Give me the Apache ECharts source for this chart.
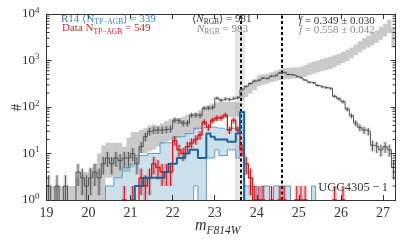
<!DOCTYPE html>
<html><head><meta charset="utf-8">
<script src="https://cdn.jsdelivr.net/npm/echarts@6/dist/echarts.min.js"></script>
<style>html,body{margin:0;padding:0;background:#fff;}#chart{width:407px;height:244px;}</style>
</head><body><div id="chart"></div>
<script>
// ---------------- data ----------------
const binEdges = [
 19.0,19.1,19.2,19.3,19.4,19.5,19.6,19.7,19.8,19.9,
 20.0,20.1,20.2,20.3,20.4,20.5,20.6,20.7,20.8,20.9,
 21.0,21.1,21.2,21.3,21.4,21.5,21.6,21.7,21.8,21.9,
 22.0,22.1,22.2,22.3,22.4,22.5,22.6,22.7,22.8,22.9,
 23.0,23.1,23.2,23.3,23.4,23.5,23.6,23.7,23.8,23.9,
 24.0,24.1,24.2,24.3,24.4,24.5,24.6,24.7,24.8,24.9,
 25.0,25.1,25.2,25.3,25.4,25.5,25.6,25.7,25.8,25.9,
 26.0,26.1,26.2,26.3,26.4,26.5,26.6,26.7,26.8,26.9,
 27.0,27.1,27.2,27.3];

// all stars, data (dark grey step histogram)
const dataTotalCounts = [
 2,0,2,0,2,0,0,4,3,2,
 3,4,3,6,8,6,8,7,8,8,
 10,6,14,23,30,32,32,32,33,34,
 52,50,45,45,67,67,65,95,95,98,
 155,140,150,145,155,160,240,280,320,360,
 380,420,410,460,480,540,560,500,490,450,
 420,380,340,330,290,270,260,250,170,150,
 130,90,65,45,36,32,30,15,14,12,
 14,12,5];

// all stars, model range (light grey band)
const modelTotalLo = [
 0,0,0,0,0,0,0,0,0,0,
 0,0,0,0,3,3,3,3,4,4,
 5,9,10,10,11,12,14,16,18,19,
 20,22,24,26,28,32,35,40,45,47,
 50,55,58,60,61,62,140,165,195,230,
 280,300,320,340,360,380,390,400,410,415,
 420,450,480,520,560,590,620,660,720,800,
 880,980,1100,1300,1500,1700,1900,2100,2400,2800,
 3300,3900,1900];
const modelTotalHi = [
 2,2,2,2,2,2,2,3,4,4,
 5,6,10,15,17,17,17,17,14,22,
 29,29,32,36,40,42,40,45,50,55,
 58,58,62,68,72,75,85,95,110,120,
 125,128,130,130,128,125,230,280,340,400,
 480,500,520,560,600,650,690,700,710,720,
 730,800,880,950,1000,1080,1150,1200,1300,1400,
 1550,1700,1900,2200,2600,3000,3400,3900,4500,5300,
 6200,7500,5000];

// R14 TP-AGB model: range (light blue band) and median (dark blue)
const r14Lo = [
 0,0,0,0,0,0,0,0,0,0,
 0,0,0,0,0,0,0,0,0,0,
 0,0,0,0,0,0,0,0,0,0,
 0,0,0,0,0,2,0,0,8,8,
 12,9,9,12,12,8,15,0,0,0,
 0,0,0,0,0,0,0,0,0,0,
 0,0,0,0,0,0,0,0,0,0,
 0,0,0,0,0,0,0,0,0,0,
 0,0,0];
const r14Hi = [
 0,0,0,0,0,0,0,0,0,0,
 0,0,0,0,2,2,3,3,5,5,
 6,9,9,9,10,10,10,17,17,17,
 23,23,23,27,27,35,35,37,37,37,
 35,35,32,35,35,35,80,2,2,2,
 1,2,2,1,2,2,2,2,0,0,
 0,0,0,2,0,0,0,0,0,0,
 0,0,0,0,0,0,0,0,0,0,
 0,0,0];
const r14Median = [
 0,0,0,0,0,0,0,0,0,0,
 0,0,0,0,0,0,0,0,0,0,
 0,2,2,3,3,3,3,3,4,6,
 6,8,8,10,12,12,8,8,27,23,
 20,20,20,18,18,27,78,0,0,0,
 0,0,0,0,0,0,0,0,0,0,
 0,0,0,0,0,0,0,0,0,0,
 0,0,0,0,0,0,0,0,0,0,
 0,0,0];

// TP-AGB data (red step histogram)
const dataAgbCounts = [
 0,0,0,0,0,0,0,0,0,0,
 0,0,0,0,0,0,0,0,1,0,
 1,0,3,2,3,6,5,4,4,4,
 19,12,10,14,17,20,25,47,37,52,
 58,58,67,32,52,32,12,6,3,1,
 1,1,0,1,0,1,1,0,0,1,
 1,1,0,0,0,0,0,0,1,0,
 1,0,0,0,0,0,0,0,0,0,
 0,0,0];

const xTickValues = [19,20,21,22,23,24,25,26,27];
const yTickExponents = [0,1,2,3,4];
const trgbMag = 23.61, trgbBandLo = 23.48, trgbBandHi = 23.72;
const cutMag = 24.59;

// ---------------- styling ----------------
const SERIF = "'Liberation Serif','DejaVu Serif',serif";
const AX = '#333333';
const FLOOR = 0.3; // draws empty bins below the axis (clipped)

function stepData(vals){
  const out = [];
  for (let i = 0; i < vals.length; i++) out.push([binEdges[i], vals[i] > 0 ? vals[i] : FLOOR]);
  const last = vals[vals.length - 1];
  out.push([binEdges[vals.length], last > 0 ? last : FLOOR]);
  return out;
}
function stepSeries(vals, color, width, z){
  return {type:'line', step:'end', data:stepData(vals), symbol:'none', silent:true, z,
    clip:true, lineStyle:{color, width}, animation:false};
}
function bandSeries(lo, hi, fill, z){
  return {type:'custom', z, silent:true, clip:true, data:[[binEdges[0], 1]], animation:false,
    renderItem(params, api){
      const pts = [];
      for (let i = 0; i < hi.length; i++){
        const h = Math.max(hi[i], 1);
        pts.push(api.coord([binEdges[i], h]), api.coord([binEdges[i+1], h]));
      }
      for (let i = lo.length - 1; i >= 0; i--){
        const l = Math.max(lo[i], 1);
        pts.push(api.coord([binEdges[i+1], l]), api.coord([binEdges[i], l]));
      }
      return {type:'polygon', shape:{points:pts}, style:{fill, stroke:null}};
    }};
}
function errSeries(vals, lineColor, boxColor, z){
  const items = [];
  vals.forEach((c, i) => { if (c > 0) items.push([binEdges[i], binEdges[i+1], c]); });
  return {type:'custom', z, silent:true, clip:true, data:items, animation:false,
    renderItem(params, api){
      const x0 = api.value(0), x1 = api.value(1), c = api.value(2);
      const s = Math.sqrt(c);
      const pTop = api.coord([x0, c + s]);
      const pBot = api.coord([x1, Math.max(c - s, FLOOR)]);
      const cs = params.coordSys;
      const yb = Math.min(pBot[1], cs.y + cs.height);
      const xm = (pTop[0] + pBot[0]) / 2;
      return {type:'group', children:[
        {type:'rect', shape:{x:pTop[0], y:pTop[1], width:pBot[0]-pTop[0], height:yb-pTop[1]}, style:{fill:boxColor}},
        {type:'line', shape:{x1:xm, y1:pTop[1], x2:xm, y2:yb}, style:{stroke:lineColor, lineWidth:1}}
      ]};
    }};
}
const minorTickVals = [];
for (let e = 0; e < 4; e++) for (let k = 2; k <= 9; k++) minorTickVals.push(k * Math.pow(10, e));

const chart = echarts.init(document.getElementById('chart'), null, {renderer:'canvas'});

const axisCommon = {
  axisLine:{show:true, lineStyle:{color:AX, width:1}},
  axisTick:{show:true, inside:true, length:5, lineStyle:{color:AX, width:1}},
  splitLine:{show:false}, z:20
};

const option = {
  animation:false,
  backgroundColor:'#ffffff',
  grid:{left:46.5, right:11.4, top:14, bottom:44, containLabel:false, outerBoundsMode:'none'},
  xAxis:[
    Object.assign({type:'value', min:19, max:27.3, interval:1, position:'bottom',
      axisLabel:{show:true, margin:6, color:AX, fontSize:14, fontFamily:SERIF,
        formatter: v => xTickValues.indexOf(v) >= 0 ? String(v) : ''}}, axisCommon),
    Object.assign({type:'value', min:19, max:27.3, interval:1, position:'top',
      axisLabel:{show:false}}, axisCommon)
  ],
  yAxis:[
    Object.assign({type:'log', logBase:10, min:1, max:10000, position:'left',
      axisLabel:{show:true, margin:7,
        formatter: v => {
          const e = Math.round(Math.log10(v));
          return yTickExponents.indexOf(e) >= 0 ? '{b|10}{s|' + e + '}' : '';
        },
        rich:{
          b:{fontSize:13, fontFamily:SERIF, color:AX, lineHeight:16, verticalAlign:'middle'},
          s:{fontSize:9, fontFamily:SERIF, color:AX, height:9, verticalAlign:'top'}
        }}}, axisCommon),
    Object.assign({type:'log', logBase:10, min:1, max:10000, position:'right',
      axisLabel:{show:false}}, axisCommon)
  ],
  series:[
    bandSeries(modelTotalLo, modelTotalHi, 'rgba(150,150,150,0.5)', 1),
    bandSeries(r14Lo, r14Hi, 'rgba(110,165,200,0.35)', 2),
    {type:'line', data:[], z:3, silent:true,
      markArea:{silent:true, itemStyle:{color:'rgba(215,215,215,0.6)'},
        data:[[{xAxis:trgbBandLo, yAxis:1}, {xAxis:trgbBandHi, yAxis:4500}]]}},
    stepSeries(r14Hi, 'rgb(95,155,195)', 1, 4),
    stepSeries(r14Lo, 'rgb(95,155,195)', 1, 4),
    errSeries(dataTotalCounts, '#555555', 'rgba(90,90,90,0.2)', 5),
    stepSeries(dataTotalCounts, '#555555', 1, 6),
    errSeries(dataAgbCounts, '#cc1020', 'rgba(225,60,60,0.3)', 7),
    stepSeries(dataAgbCounts, '#d7191c', 1.3, 8),
    stepSeries(r14Median, '#1b6596', 2, 9),
    {type:'custom', z:10, silent:true, clip:false, data:minorTickVals.map(v => [19, v]),
      renderItem(params, api){
        const p = api.coord([19, api.value(1)]);
        const cs = params.coordSys;
        const xl = cs.x, xr = cs.x + cs.width;
        return {type:'group', children:[
          {type:'line', shape:{x1:xl, y1:p[1], x2:xl+3, y2:p[1]}, style:{stroke:AX, lineWidth:1}},
          {type:'line', shape:{x1:xr-3, y1:p[1], x2:xr, y2:p[1]}, style:{stroke:AX, lineWidth:1}}
        ]};
      }},
    {type:'line', data:[], z:11, silent:true,
      markLine:{silent:true, symbol:'none', label:{show:false},
        lineStyle:{color:'#000000', width:2, type:[3,2.5]},
        data:[{xAxis:trgbMag}, {xAxis:cutMag}]}}
  ],
  graphic:[
    {type:'text', x:61, y:19, z:100, silent:true, style:{
      text:'{a|R14 ⟨N}{b|TP−AGB}{a|⟩ = 339}', fill:'rgb(60,125,180)', align:'left', verticalAlign:'middle',
      rich:{a:{fontSize:11, fontFamily:SERIF, lineHeight:14, verticalAlign:'middle'},
            b:{fontSize:7.5, fontFamily:SERIF, height:7, verticalAlign:'bottom'}}}},
    {type:'text', x:62, y:28.5, z:100, silent:true, style:{
      text:'{a|Data N}{b|TP−AGB}{a| = 549}', fill:'rgb(215,30,40)', align:'left', verticalAlign:'middle',
      rich:{a:{fontSize:11, fontFamily:SERIF, lineHeight:14, verticalAlign:'middle'},
            b:{fontSize:7.5, fontFamily:SERIF, height:7, verticalAlign:'bottom'}}}},
    {type:'text', x:192, y:19, z:100, silent:true, style:{
      text:'{a|⟨}{i|N}{b|RGB}{a|⟩ = 981}', fill:'#333333', align:'left', verticalAlign:'middle',
      rich:{a:{fontSize:11, fontFamily:SERIF, lineHeight:14, verticalAlign:'middle'},
            i:{fontSize:11, fontFamily:SERIF, fontStyle:'italic', lineHeight:14, verticalAlign:'middle'},
            b:{fontSize:7.5, fontFamily:SERIF, height:7, verticalAlign:'bottom'}}}},
    {type:'text', x:197, y:29, z:100, silent:true, style:{
      text:'{i|N}{b|RGB}{a| = 983}', fill:'#858585', align:'left', verticalAlign:'middle',
      rich:{a:{fontSize:11, fontFamily:SERIF, lineHeight:14, verticalAlign:'middle'},
            i:{fontSize:11, fontFamily:SERIF, fontStyle:'italic', lineHeight:14, verticalAlign:'middle'},
            b:{fontSize:7.5, fontFamily:SERIF, height:7, verticalAlign:'bottom'}}}},
    {type:'text', x:299, y:21, z:100, silent:true, style:{
      text:'{i|f}{a| = 0.349 ± 0.030}', fill:'#333333', align:'left', verticalAlign:'middle',
      rich:{a:{fontSize:11, fontFamily:SERIF, lineHeight:14, verticalAlign:'middle'},
            i:{fontSize:11, fontFamily:SERIF, fontStyle:'italic', lineHeight:14, verticalAlign:'middle'}}}},
    {type:'text', x:299, y:30.5, z:100, silent:true, style:{
      text:'{i|f}{a| = 0.558 ± 0.042}', fill:'#8a8a8a', align:'left', verticalAlign:'middle',
      rich:{a:{fontSize:11, fontFamily:SERIF, lineHeight:14, verticalAlign:'middle'},
            i:{fontSize:11, fontFamily:SERIF, fontStyle:'italic', lineHeight:14, verticalAlign:'middle'}}}},
    {type:'text', x:388, y:188, z:100, silent:true, style:{
      text:'UGC4305\u2009−\u20091', fill:'#333333', align:'right', verticalAlign:'middle',
      fontSize:12.5, fontFamily:SERIF}},
    {type:'text', x:195, y:226, z:100, silent:true, style:{
      text:'{m|m}{s|F814W}', fill:'#333333', align:'left', verticalAlign:'middle',
      rich:{m:{fontSize:16, fontFamily:SERIF, fontStyle:'italic', lineHeight:20, verticalAlign:'middle'},
            s:{fontSize:11.5, fontFamily:SERIF, fontStyle:'italic', height:11, verticalAlign:'bottom'}}}},
    {type:'text', x:17, y:107.5, z:100, silent:true, rotation:Math.PI/2, style:{
      text:'#', fill:'#333333', align:'center', verticalAlign:'middle', fontSize:15, fontFamily:SERIF}}
  ]
};
chart.setOption(option);
</script>
</body></html>
